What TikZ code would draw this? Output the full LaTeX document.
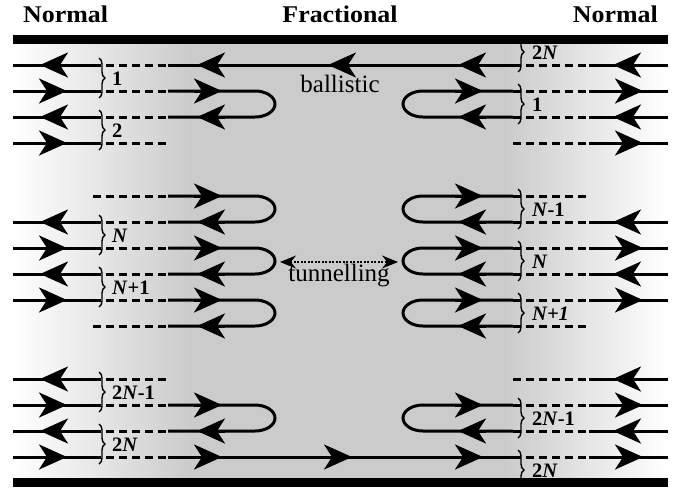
\documentclass[tikz,border=0pt]{standalone}
\usepackage{fontspec}
\setmainfont{Liberation Serif}
\newfontfamily\titlefont[FakeStretch=1.08]{Liberation Serif}
\usetikzlibrary{arrows.meta,decorations.pathreplacing}
\definecolor{bgg}{RGB}{203,203,203}
\tikzset{
  wire/.style={line width=3pt},
  dashwire/.style={line width=3pt, dash pattern=on 8pt off 5pt},
  bigarrow/.style={-{Stealth[length=28pt,width=25pt,inset=8pt]}, line width=3pt},
  bracestyle/.style={decorate, decoration={brace, amplitude=6pt}, line width=1.4pt},
  lbl/.style={font=\fontsize{20.5}{20.5}\selectfont\bfseries, anchor=base west, inner sep=0pt},
  titletext/.style={font=\titlefont\fontsize{24}{24}\selectfont\bfseries, inner sep=0pt},
  note/.style={font=\fontsize{25}{25}\selectfont, anchor=base, inner sep=0pt},
  tunarrow/.style={{Stealth[length=16pt,width=13pt]}-{Stealth[length=16pt,width=13pt]}, line width=1.3pt, dash pattern=on 2pt off 1.5pt},
}
\newcommand\AR[2]{\draw[bigarrow] (#1-28,#2) -- (#1,#2);}
\newcommand\AL[2]{\draw[bigarrow] (#1+28,#2) -- (#1,#2);}
\newcommand\LN[1]{\draw[wire] (13,#1) -- (93,#1);}
\newcommand\LD[1]{\draw[dashwire] (93,#1) -- (168,#1);}
\newcommand\LLoop[2]{\draw[wire] (168,#1) -- (255,#1) arc[start angle=90, end angle=-90, x radius=20pt, y radius=(#2-#1)/2*1pt] -- (168,#2);}
\newcommand\RN[1]{\draw[wire] (589,#1) -- (668,#1);}
\newcommand\RD[1]{\draw[dashwire] (513,#1) -- (589,#1);}
\newcommand\RLoop[2]{\draw[wire] (513,#1) -- (423,#1) arc[start angle=90, end angle=270, x radius=20pt, y radius=(#2-#1)/2*1pt] -- (513,#2);}
\begin{document}
\begin{tikzpicture}[x=1pt,y=-1pt]
\useasboundingbox (0,0) rectangle (696,491);
% background
\shade[left color=white, right color=bgg] (13,44) rectangle (191,478);
\fill[bgg] (190,44) rectangle (506,478);
\shade[left color=bgg, right color=white] (505,44) rectangle (668,478);
% titles
\node[titletext, anchor=base west] (tl) at (23,22) {Normal};
\node[titletext, anchor=base] (tc) at (340,22) {Fractional};
\node[titletext, anchor=base east] (tr) at (658,22) {Normal};
% ---------- left side ----------
\LN{65}\LD{65}
\LN{91}\LD{91}
\LN{117}\LD{117}
\LN{143}\LD{143}
\LLoop{91}{117}
\LD{196}
\LN{222}\LD{222}
\LN{248}\LD{248}
\LN{274}\LD{274}
\LN{300}\LD{300}
\LD{326}
\LLoop{196}{222}\LLoop{248}{274}\LLoop{300}{326}
\LN{379}\LD{379}
\LN{405}\LD{405}
\LN{431}\LD{431}
\LN{457}\LD{457}
\LLoop{405}{431}
% ballistic lines
\draw[wire] (168,65) -- (513,65);
\draw[wire] (168,457) -- (513,457);
% ---------- right side ----------
\RD{65}\RN{65}
\RD{91}\RN{91}
\RD{117}\RN{117}
\RD{143}\RN{143}
\RLoop{91}{117}
\RD{196}
\RD{222}\RN{222}
\RD{248}\RN{248}
\RD{274}\RN{274}
\RD{300}\RN{300}
\RD{326}
\RLoop{196}{222}\RLoop{248}{274}\RLoop{300}{326}
\RD{379}\RN{379}
\RD{405}\RN{405}
\RD{431}\RN{431}
\RD{457}\RN{457}
\RLoop{405}{431}
% ---------- arrowheads ----------
\AL{40}{65}\AR{67}{91}\AL{40}{117}\AR{67}{143}
\AL{40}{222}\AR{67}{248}\AL{40}{274}\AR{67}{300}
\AL{40}{379}\AR{67}{405}\AL{40}{431}\AR{67}{457}
\AL{197}{65}\AR{222}{91}\AL{197}{117}
\AR{222}{196}\AL{197}{222}\AR{222}{248}\AL{197}{274}\AR{222}{300}\AL{197}{326}
\AR{222}{405}\AL{197}{431}\AR{222}{457}
\AL{328}{65}\AR{352}{457}
\AL{458}{65}\AR{483}{91}\AL{458}{117}
\AR{483}{196}\AL{458}{222}\AR{483}{248}\AL{458}{274}\AR{483}{300}\AL{458}{326}
\AR{483}{405}\AL{458}{431}\AR{483}{457}
\AL{613}{65}\AR{643}{91}\AL{613}{117}\AR{643}{143}
\AL{613}{222}\AR{643}{248}\AL{613}{274}\AR{643}{300}
\AL{613}{379}\AR{643}{405}\AL{613}{431}\AR{643}{457}
% ---------- braces and labels ----------
\begin{scope}
\clip (13,44) rectangle (668,478);
\foreach \a/\b in {65/91,117/143,222/248,274/300,379/405,431/457}
  \draw[bracestyle] (99,\a-7) -- (99,\b+7);
\foreach \a/\b in {39/65,91/117,196/222,248/274,300/326,405/431,457/483}
  \draw[bracestyle] (518,\a-7) -- (518,\b+7);
\end{scope}
\node[lbl] (l1) at (112,85) {1};
\node[lbl] (l2) at (112,137) {2};
\node[lbl] (l3) at (112,242) {\textit{N}};
\node[lbl] (l4) at (112,294) {\textit{N}+1};
\node[lbl] (l5) at (112,399) {2\textit{N}-1};
\node[lbl] (l6) at (112,451) {2\textit{N}};
\node[lbl] (r1) at (532,59) {2\textit{N}};
\node[lbl] (r2) at (532,111) {1};
\node[lbl] (r3) at (532,216) {\textit{N}-1};
\node[lbl] (r4) at (532,268) {\textit{N}};
\node[lbl] (r5) at (532,320) {\textit{N+1}};
\node[lbl] (r6) at (532,425) {2\textit{N}-1};
\node[lbl] (r7) at (532,477) {2\textit{N}};
% ---------- annotations ----------
\node[note] (bal) at (340,92) {ballistic};
\coordinate (tunL) at (280,262);
\coordinate (tunR) at (398,262);
\draw[tunarrow] (tunL) -- (tunR);
\node[note] (tun) at (339,281) {tunnelling};
% bars
\fill (13,35) rectangle (668,44);
\fill (13,478) rectangle (668,487);
\end{tikzpicture}
\end{document}
